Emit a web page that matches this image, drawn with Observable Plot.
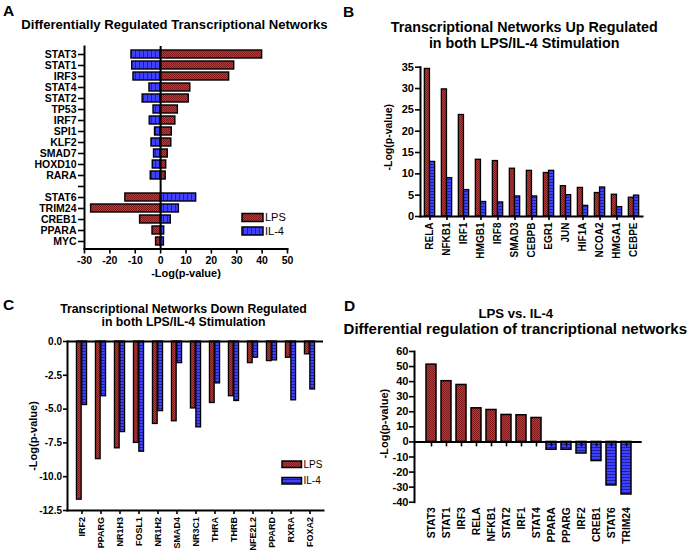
<!DOCTYPE html>
<html>
<head>
<meta charset="utf-8">
<script src="https://cdn.jsdelivr.net/npm/d3@7"></script>
<script src="https://cdn.jsdelivr.net/npm/@observablehq/plot@0.6"></script>
<style>
  html, body { margin: 0; padding: 0; background: #fff; }
  #root { position: relative; width: 689px; height: 556px; overflow: hidden; background: #fff;
          font-family: "Liberation Sans", Arial, Helvetica, sans-serif; }
  #root svg { position: absolute; }
</style>
</head>
<body>
<div id="root"></div>
<script>
// ---------------- DATA ----------------
const seriesNames = ["LPS", "IL-4"];

// Panel A: differentially regulated networks (spacer row after RARA)
const aNames = ["STAT3","STAT1","IRF3","STAT4","STAT2","TP53","IRF7","SPI1","KLF2","SMAD7","HOXD10","RARA",
                "STAT6","TRIM24","CREB1","PPARA","MYC"];
const aSpacerAfter = "RARA";
const aLPS = [40.0, 29.0, 27.0, 11.7, 11.1, 6.8, 5.8, 4.4, 4.2, 2.8, 2.2, 2.0,
              -13.9, -27.4, -8.1, -3.2, -1.8];
const aIL4 = [-11.5, -11.2, -10.7, -4.4, -7.1, -2.8, -4.3, -2.2, -3.6, -2.6, -3.1, -3.9,
              14.0, 7.2, 4.0, 1.4, 1.3];
const aTicks = [-30, -20, -10, 0, 10, 20, 30, 40, 50];

// Panel B: up regulated in both
const bNames = ["RELA","NFKB1","IRF1","HMGB1","IRF8","SMAD3","CEBPB","EGR1","JUN","HIF1A","NCOA2","HMGA1","CEBPE"];
const bLPS = [34.6, 29.8, 23.8, 13.3, 13.0, 11.2, 10.7, 10.2, 7.1, 6.7, 5.5, 5.1, 4.4];
const bIL4 = [12.8, 9.0, 6.2, 3.4, 3.3, 4.7, 4.7, 10.7, 5.0, 2.5, 6.8, 2.2, 4.9];
const bTicks = [0, 5, 10, 15, 20, 25, 30, 35];

// Panel C: down regulated in both
const cNames = ["IRF2","PPARG","NR1H3","FOSL1","NR1H2","SMAD4","NR3C1","THRA","THRB","NFE2L2","PPARD","RXRA","FOXA2"];
const cLPS = [-11.7, -8.7, -7.9, -7.5, -6.1, -5.9, -4.95, -4.55, -4.05, -1.6, -1.45, -1.2, -0.95];
const cIL4 = [-4.7, -4.05, -6.7, -8.15, -5.15, -1.6, -6.35, -3.1, -4.4, -1.2, -1.4, -4.35, -3.55];
const cTicks = [0, -2.5, -5, -7.5, -10, -12.5];

// Panel D: LPS vs IL-4
const dNames = ["STAT3","STAT1","IRF3","RELA","NFKB1","STAT2","IRF1","STAT4","PPARA","PPARG","IRF2","CREB1","STAT6","TRIM24"];
const dValues = [51.3, 40.3, 37.8, 22.3, 21.2, 17.9, 17.7, 15.9, -5.2, -5.2, -7.7, -12.7, -28.9, -34.9];
const dTicks = [60, 50, 40, 30, 20, 10, 0, -10, -20, -30, -40];

const yLabel = "-Log(p-value)";

// ---------------- SETUP ----------------
const root = document.getElementById("root");
const FONT = '"Liberation Sans", Arial, Helvetica, sans-serif';
const baseStyle = {fontFamily: FONT, fontSize: "11px", fontWeight: "bold", color: "black",
                   background: "transparent", overflow: "visible"};

// fill patterns
const defs = d3.select(root).append("svg").attr("width", 0).attr("height", 0)
  .style("left", "0px").style("top", "0px").append("defs");
function pattern(id, w, h, bg, fg, cells) {
  const p = defs.append("pattern").attr("id", id).attr("patternUnits", "userSpaceOnUse")
    .attr("width", w).attr("height", h);
  p.append("rect").attr("width", w).attr("height", h).attr("fill", bg);
  for (const [x, y, cw, ch] of cells)
    p.append("rect").attr("x", x).attr("y", y).attr("width", cw).attr("height", ch).attr("fill", fg);
}
pattern("redPat", 2, 2, "#c83232", "#861a1a", [[0, 0, 1, 1], [1, 1, 1, 1]]);
pattern("blueH", 3, 3, "#4040ff", "#20209a", [[0, 2, 3, 1]]);
pattern("blueV", 4, 4, "#4040ff", "#20209a", [[3, 0, 1, 4]]);
const RED = "url(#redPat)";

function place(svg, left, top) {
  svg.style.position = "absolute";
  svg.style.left = left + "px";
  svg.style.top = top + "px";
  root.appendChild(svg);
}

// ---------------- PANEL A ----------------
const aRows = aNames.map((name, i) => ({name, lps: aLPS[i], il4: aIL4[i]}));
const aSplit = aNames.indexOf(aSpacerAfter) + 1;
const aDomain = [...aNames.slice(0, aSplit), " ", ...aNames.slice(aSplit)];
const plotA = Plot.plot({
  width: 340, height: 280,
  marginTop: 46, marginBottom: 31.5, marginLeft: 84, marginRight: 53,
  style: baseStyle,
  x: {domain: [-30, 50]},
  y: {domain: aDomain, padding: 0.3},
  marks: [
    Plot.barX(aRows, {y: "name", x: "il4", fill: "url(#blueV)", stroke: "black", strokeWidth: 1.4}),
    Plot.barX(aRows, {y: "name", x: "lps", fill: RED, stroke: "black", strokeWidth: 1.4}),
    Plot.ruleX([0], {strokeWidth: 2}),
    Plot.frame({anchor: "left", strokeWidth: 2}),
    Plot.frame({anchor: "bottom", strokeWidth: 2}),
    Plot.axisX({ticks: aTicks, tickFormat: d => String(d), tickSize: 5, tickPadding: 2.5,
                fontSize: 10.5, strokeWidth: 1.6, label: null}),
    Plot.axisY({tickSize: 6, tickPadding: 2, fontSize: 10.5, strokeWidth: 1.6, label: null}),
    Plot.text([yLabel], {text: d => d, frameAnchor: "bottom", lineAnchor: "middle", textAnchor: "middle",
                         dy: 24.5, fontSize: 11})
  ]
});
place(plotA, 0, 0);

// ---------------- PANEL B ----------------
const bRows = bNames.map((name, i) => ({name, lps: bLPS[i], il4: bIL4[i]}));
const bHalf = (349 - 80 - 47) / bNames.length / 2;
const plotB = Plot.plot({
  width: 349, height: 280,
  marginTop: 66.7, marginBottom: 64, marginLeft: 80, marginRight: 47,
  style: baseStyle,
  x: {domain: bNames, padding: 0},
  y: {domain: [0, 35]},
  marks: [
    Plot.barY(bRows, {x: "name", y: "lps", fill: RED, stroke: "black", strokeWidth: 1.3,
                      insetLeft: bHalf - 5.2, insetRight: bHalf}),
    Plot.barY(bRows, {x: "name", y: "il4", fill: "url(#blueH)", stroke: "black", strokeWidth: 1.3,
                      insetLeft: bHalf, insetRight: bHalf - 5.2}),
    Plot.frame({anchor: "left", strokeWidth: 2}),
    Plot.frame({anchor: "bottom", strokeWidth: 2}),
    Plot.axisY({ticks: bTicks, tickSize: 5, tickPadding: 1.5, fontSize: 11, strokeWidth: 1.6, label: null}),
    Plot.axisX({tickRotate: -90, tickSize: 4, tickPadding: 2, fontSize: 10, strokeWidth: 1.6, label: null}),
    Plot.text([yLabel], {text: d => d, frameAnchor: "left", textAnchor: "middle", lineAnchor: "middle",
                         rotate: -90, dx: -32, dy: -4.6, fontSize: 10.5})
  ]
});
place(plotB, 340, 0);

// ---------------- PANEL C ----------------
const cRows = cNames.map((name, i) => ({name, lps: cLPS[i], il4: cIL4[i]}));
const cHalf = (340 - 67 - 17) / cNames.length / 2;
const plotC = Plot.plot({
  width: 340, height: 276,
  marginTop: 61, marginBottom: 46, marginLeft: 67, marginRight: 17,
  style: baseStyle,
  x: {domain: cNames, padding: 0},
  y: {domain: [-12.5, 0]},
  marks: [
    Plot.barY(cRows, {x: "name", y: "lps", fill: RED, stroke: "black", strokeWidth: 1.3,
                      insetLeft: cHalf - 5.4, insetRight: cHalf}),
    Plot.barY(cRows, {x: "name", y: "il4", fill: "url(#blueH)", stroke: "black", strokeWidth: 1.3,
                      insetLeft: cHalf, insetRight: cHalf - 5.4}),
    Plot.ruleY([0], {strokeWidth: 2}),
    Plot.frame({anchor: "left", strokeWidth: 2}),
    Plot.frame({anchor: "bottom", strokeWidth: 2}),
    Plot.axisY({ticks: cTicks, tickFormat: d => d.toFixed(1), tickSize: 4, tickPadding: 1.5,
                fontSize: 10, strokeWidth: 1.6, label: null}),
    Plot.axisX({tickRotate: -90, tickSize: 4, tickPadding: 2.5, fontSize: 9, strokeWidth: 1.6, label: null}),
    Plot.text([yLabel], {text: d => d, frameAnchor: "left", textAnchor: "middle", lineAnchor: "middle",
                         rotate: -90, dx: -33.7, dy: 10, fontSize: 11})
  ]
});
place(plotC, 0, 280);

// ---------------- PANEL D ----------------
const dRows = dNames.map((name, i) => ({name, v: dValues[i]}));
const plotD = Plot.plot({
  width: 349, height: 276,
  marginTop: 71, marginBottom: 54.3, marginLeft: 74, marginRight: 47.3,
  style: baseStyle,
  x: {domain: dNames, padding: 0.36},
  y: {domain: [-40, 60]},
  marks: [
    Plot.barY(dRows, {x: "name", y: "v", filter: d => d.v > 0, fill: RED, stroke: "black", strokeWidth: 1.5}),
    Plot.barY(dRows, {x: "name", y: "v", filter: d => d.v < 0, fill: "url(#blueH)", stroke: "black", strokeWidth: 1.5}),
    Plot.ruleY([0], {strokeWidth: 2}),
    Plot.ruleX(dNames, {x: d => d, y1: 0, y2: -3.3, strokeWidth: 1.6}),
    Plot.frame({anchor: "left", strokeWidth: 2}),
    Plot.axisY({ticks: dTicks, tickFormat: d => String(d), tickSize: 5, tickPadding: 1,
                fontSize: 11, strokeWidth: 1.6, label: null}),
    Plot.axisX({tickRotate: -90, tickSize: 0, tickPadding: 5, fontSize: 10.3, label: null}),
    Plot.text([yLabel], {text: d => d, frameAnchor: "left", textAnchor: "middle", lineAnchor: "middle",
                         rotate: -90, dx: -30, dy: -3.3, fontSize: 11})
  ]
});
place(plotD, 340, 280);

// ---------------- TITLES, LETTERS, LEGENDS ----------------
const ov = d3.select(root).append("svg").attr("width", 689).attr("height", 556)
  .style("left", "0px").style("top", "0px").style("pointer-events", "none")
  .style("font-family", FONT);
function txt(x, y, s, size, anchor = "middle", weight = "bold") {
  ov.append("text").attr("x", x).attr("y", y).attr("text-anchor", anchor)
    .attr("font-size", size).attr("font-weight", weight).attr("fill", "black").text(s);
}
// panel letters
txt(3, 16, "A", 15.5, "start");
txt(343, 16.5, "B", 15.5, "start");
txt(3, 310, "C", 15.5, "start");
txt(344, 311, "D", 15.5, "start");
// titles
txt(174.5, 29.3, "Differentially Regulated Transcriptional Networks", 13.1);
txt(524.2, 32, "Transcriptional Networks Up Regulated", 14.3);
txt(524.2, 47.7, "in both LPS/IL-4 Stimulation", 14.3);
txt(183.5, 312.5, "Transcriptional Networks Down Regulated", 12.3);
txt(183.5, 326, "in both LPS/IL-4 Stimulation", 12.3);
txt(515.8, 318.3, "LPS vs. IL-4", 13.2);
txt(515.3, 334.3, "Differential regulation of trancriptional networks", 15);

// legends
function legend(x, ys, w, h, fills, size) {
  seriesNames.forEach((name, i) => {
    ov.append("rect").attr("x", x).attr("y", ys[i]).attr("width", w).attr("height", h)
      .attr("fill", fills[i]).attr("stroke", "black").attr("stroke-width", 1.5);
    txt(x + w + 2, ys[i] + h / 2 + size * 0.36, name, size, "start", "normal");
  });
}
legend(242, [213.5, 227], 21, 8, [RED, "url(#blueV)"], 11);
legend(282, [461, 477.5], 19.5, 6.5, [RED, "url(#blueH)"], 10);
</script>
</body>
</html>
